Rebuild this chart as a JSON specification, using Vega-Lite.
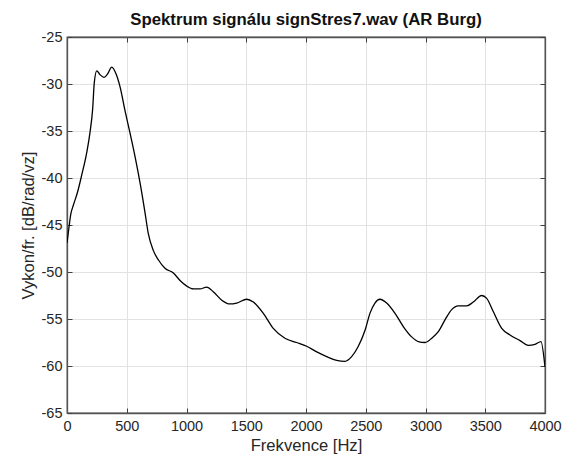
{
  "$schema": "https://vega.github.io/schema/vega-lite/v6.json",
  "autosize": "none",
  "padding": {"left": 67, "top": 37, "right": 31, "bottom": 44},
  "width": 478,
  "height": 376,
  "background": "white",
  "title": {
    "text": "Spektrum signálu signStres7.wav (AR Burg)",
    "font": "Liberation Sans",
    "fontSize": 16.8,
    "fontWeight": "bold",
    "color": "#111111",
    "offset": 0
  },
  "config": {
    "view": {"stroke": "#555555", "strokeWidth": 1.3},
    "axis": {
      "labelFont": "Liberation Sans",
      "labelFontSize": 14.5,
      "labelColor": "#262626",
      "labelFlush": false,
      "titleFont": "Liberation Sans",
      "titleFontSize": 16.6,
      "titleFontWeight": "normal",
      "titleColor": "#262626",
      "domainColor": "#555555",
      "domainWidth": 1.3,
      "tickColor": "#404040",
      "tickSize": -5,
      "gridColor": "#e2e2e2",
      "gridWidth": 1,
      "labelExpr": "'' + datum.value"
    }
  },
  "data": {
    "values": [
      {"f": 0, "p": -46.9},
      {"f": 19, "p": -45.0},
      {"f": 31, "p": -43.9},
      {"f": 53, "p": -42.9},
      {"f": 86, "p": -41.6},
      {"f": 123, "p": -39.7},
      {"f": 165, "p": -37.3},
      {"f": 192, "p": -35.2},
      {"f": 215, "p": -32.6},
      {"f": 228, "p": -29.9},
      {"f": 249, "p": -28.6},
      {"f": 276, "p": -29.0},
      {"f": 310, "p": -29.3},
      {"f": 341, "p": -28.9},
      {"f": 374, "p": -28.2},
      {"f": 410, "p": -28.9},
      {"f": 444, "p": -30.3},
      {"f": 485, "p": -32.8},
      {"f": 527, "p": -35.2},
      {"f": 569, "p": -37.7},
      {"f": 611, "p": -40.5},
      {"f": 653, "p": -43.7},
      {"f": 680, "p": -45.9},
      {"f": 722, "p": -47.7},
      {"f": 764, "p": -48.7},
      {"f": 820, "p": -49.6},
      {"f": 890, "p": -50.1},
      {"f": 946, "p": -50.9},
      {"f": 1002, "p": -51.5},
      {"f": 1057, "p": -51.8},
      {"f": 1113, "p": -51.8},
      {"f": 1169, "p": -51.6},
      {"f": 1224, "p": -52.1},
      {"f": 1295, "p": -53.0},
      {"f": 1364, "p": -53.4},
      {"f": 1420, "p": -53.3},
      {"f": 1504, "p": -52.9},
      {"f": 1559, "p": -53.2},
      {"f": 1643, "p": -54.4},
      {"f": 1726, "p": -56.0},
      {"f": 1824, "p": -57.05},
      {"f": 1922, "p": -57.5},
      {"f": 2006, "p": -57.9},
      {"f": 2090, "p": -58.5},
      {"f": 2173, "p": -59.0},
      {"f": 2257, "p": -59.4},
      {"f": 2326, "p": -59.5},
      {"f": 2382, "p": -59.0},
      {"f": 2438, "p": -57.9},
      {"f": 2494, "p": -56.2},
      {"f": 2535, "p": -54.4},
      {"f": 2577, "p": -53.3},
      {"f": 2619, "p": -52.9},
      {"f": 2675, "p": -53.3},
      {"f": 2745, "p": -54.4},
      {"f": 2814, "p": -55.8},
      {"f": 2884, "p": -56.9},
      {"f": 2940, "p": -57.4},
      {"f": 2996, "p": -57.5},
      {"f": 3052, "p": -57.05},
      {"f": 3107, "p": -56.35},
      {"f": 3163, "p": -55.1},
      {"f": 3219, "p": -54.0},
      {"f": 3274, "p": -53.6},
      {"f": 3345, "p": -53.6},
      {"f": 3400, "p": -53.2},
      {"f": 3470, "p": -52.5},
      {"f": 3512, "p": -52.8},
      {"f": 3567, "p": -54.2},
      {"f": 3638, "p": -56.0},
      {"f": 3707, "p": -56.7},
      {"f": 3791, "p": -57.3},
      {"f": 3860, "p": -57.8},
      {"f": 3916, "p": -57.7},
      {"f": 3966, "p": -57.4},
      {"f": 4000, "p": -60.1}
    ]
  },
  "layer": [
    {
      "mark": {"type": "line", "color": "#000000", "strokeWidth": 1.3, "interpolate": "monotone", "clip": true},
      "encoding": {
        "x": {
          "field": "f",
          "type": "quantitative",
          "scale": {"domain": [0, 4000], "nice": false, "zero": false},
          "axis": {
            "title": "Frekvence [Hz]",
            "values": [0, 500, 1000, 1500, 2000, 2500, 3000, 3500, 4000],
            "labelPadding": 11,
            "titlePadding": 5
          }
        },
        "y": {
          "field": "p",
          "type": "quantitative",
          "scale": {"domain": [-65, -25], "nice": false, "zero": false},
          "axis": {
            "title": "Vykon/fr. [dB/rad/vz]",
            "values": [-65, -60, -55, -50, -45, -40, -35, -30, -25],
            "labelPadding": 10,
            "titlePadding": 5
          }
        }
      }
    },
    {
      "mark": {"type": "line", "opacity": 0},
      "encoding": {
        "x": {
          "field": "f",
          "type": "quantitative",
          "axis": {
            "orient": "top",
            "title": null,
            "labels": false,
            "grid": false,
            "values": [0, 500, 1000, 1500, 2000, 2500, 3000, 3500, 4000]
          }
        },
        "y": {
          "field": "p",
          "type": "quantitative",
          "axis": {
            "orient": "right",
            "title": null,
            "labels": false,
            "grid": false,
            "values": [-65, -60, -55, -50, -45, -40, -35, -30, -25]
          }
        }
      }
    }
  ],
  "resolve": {"axis": {"x": "independent", "y": "independent"}}
}
